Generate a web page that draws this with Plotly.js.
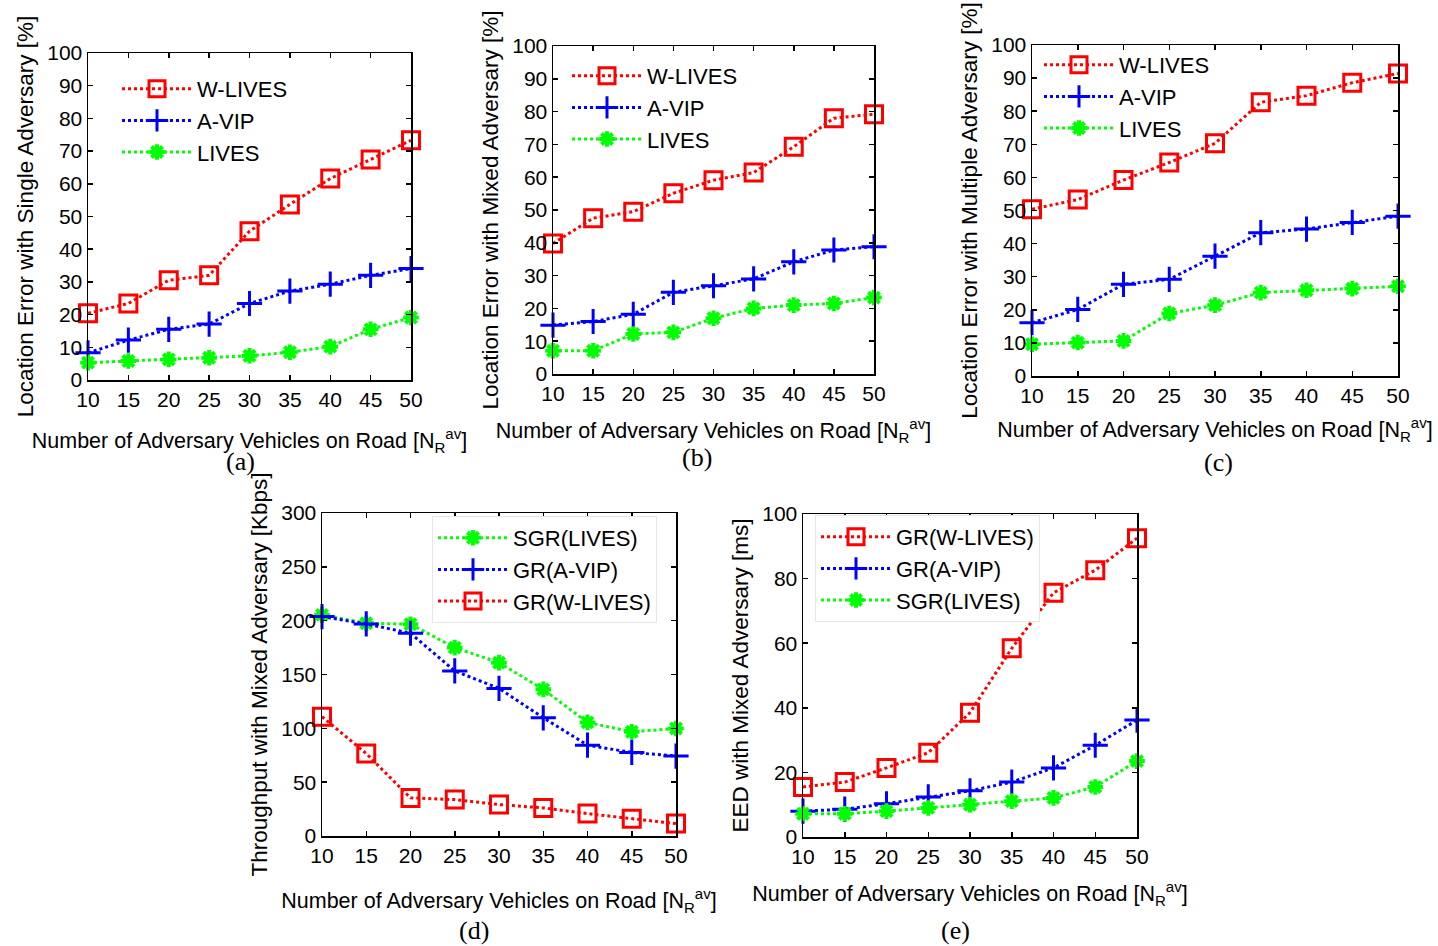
<!DOCTYPE html>
<html>
<head>
<meta charset="utf-8">
<script src="https://cdn.plot.ly/plotly-3.0.1.min.js"></script>
<style>
html,body{margin:0;padding:0;background:#fff;}
#chart{width:1438px;height:946px;}
</style>
</head>
<body>
<div id="chart"></div>
<script>
// ---- data ----
const vehicles = [10, 15, 20, 25, 30, 35, 40, 45, 50];

// (a) Location error with single adversary [%]
const a_wlives = [20.4, 23.4, 30.5, 32.0, 45.5, 53.7, 61.6, 67.4, 73.3];
const a_avip   = [8.3, 12.2, 15.5, 17.1, 23.4, 27.2, 29.3, 32.0, 34.1];
const a_lives  = [5.3, 5.8, 6.3, 6.8, 7.4, 8.5, 10.2, 15.5, 19.1];

// (b) Location error with mixed adversary [%]
const b_wlives = [39.8, 47.5, 49.5, 55.1, 59.1, 61.4, 69.3, 78.0, 79.2];
const b_avip   = [14.9, 16.0, 18.2, 24.9, 26.9, 29.0, 34.2, 37.8, 38.8];
const b_lives  = [7.1, 7.1, 12.2, 12.7, 17.0, 20.0, 21.0, 21.5, 23.3];

// (c) Location error with multiple adversary [%]
const c_wlives = [50.4, 53.3, 59.2, 64.5, 70.3, 82.7, 84.7, 88.6, 91.4];
const c_avip   = [16.1, 20.1, 27.7, 29.2, 36.2, 43.3, 44.4, 46.4, 48.3];
const c_lives  = [9.6, 10.1, 10.6, 18.9, 21.4, 25.2, 25.9, 26.4, 27.1];

// (d) Throughput with mixed adversary [Kbps]
const d_sgr_lives = [205.4, 197.6, 196.7, 175.0, 161.0, 136.2, 105.5, 96.8, 99.9];
const d_gr_avip   = [203.8, 197.0, 188.3, 153.3, 137.1, 109.8, 84.4, 77.6, 74.2];
const d_gr_wlives = [110.8, 76.6, 35.4, 33.8, 29.2, 26.1, 20.8, 16.1, 11.5];

// (e) EED with mixed adversary [ms]
const e_gr_wlives = [15.5, 17.0, 21.4, 26.1, 38.5, 58.4, 75.6, 82.6, 92.5];
const e_gr_avip   = [8.0, 8.6, 10.3, 12.4, 14.3, 17.0, 21.4, 28.4, 36.2];
const e_sgr_lives = [7.2, 7.2, 8.0, 9.0, 10.0, 11.1, 12.1, 15.5, 23.5];

const xTitle = 'Number of Adversary Vehicles on Road [N<sub>R</sub><sup>av</sup>]';
const yTitles = [
  'Location Error with Single Adversary [%]',
  'Location Error with Mixed Adversary [%]',
  'Location Error with Multiple Adversary [%]',
  'Throughput with Mixed Adversary [Kbps]',
  'EED with Mixed Adversary [ms]'
];
const captions = ['(a)', '(b)', '(c)', '(d)', '(e)'];

// ---- styles ----
const RED = '#ff0000', BLUE = '#0000ff', GREEN = '#00ff00';
const styles = {
  w: {color: RED,   symbol: 'square-open',     size: 17, mw: 3},
  v: {color: BLUE,  symbol: 'cross-thin-open', size: 18, mw: 3},
  l: {color: GREEN, symbol: 'asterisk-open',   size: 13, mw: 4}
};
function tr(y, name, st, k, legendId) {
  const s = styles[st];
  return {
    x: vehicles, y: y, name: name, type: 'scatter', mode: 'lines+markers',
    xaxis: 'x' + (k === 1 ? '' : k), yaxis: 'y' + (k === 1 ? '' : k),
    legend: legendId, cliponaxis: false,
    line: {color: s.color, width: 3, dash: 'dot'},
    marker: {symbol: s.symbol, size: s.size, color: s.color, line: {color: s.color, width: s.mw}}
  };
}

const data = [
  tr(a_wlives, 'W-LIVES', 'w', 1, 'legend'),
  tr(a_avip, 'A-VIP', 'v', 1, 'legend'),
  tr(a_lives, 'LIVES', 'l', 1, 'legend'),
  tr(b_wlives, 'W-LIVES', 'w', 2, 'legend2'),
  tr(b_avip, 'A-VIP', 'v', 2, 'legend2'),
  tr(b_lives, 'LIVES', 'l', 2, 'legend2'),
  tr(c_wlives, 'W-LIVES', 'w', 3, 'legend3'),
  tr(c_avip, 'A-VIP', 'v', 3, 'legend3'),
  tr(c_lives, 'LIVES', 'l', 3, 'legend3'),
  tr(d_sgr_lives, 'SGR(LIVES)', 'l', 4, 'legend4'),
  tr(d_gr_avip, 'GR(A-VIP)', 'v', 4, 'legend4'),
  tr(d_gr_wlives, 'GR(W-LIVES)', 'w', 4, 'legend4'),
  tr(e_gr_wlives, 'GR(W-LIVES)', 'w', 5, 'legend5'),
  tr(e_gr_avip, 'GR(A-VIP)', 'v', 5, 'legend5'),
  tr(e_sgr_lives, 'SGR(LIVES)', 'l', 5, 'legend5')
];

const W = 1438, H = 946;
const FONT = 'Liberation Sans, Arial, sans-serif';
// plot boxes in pixels: [left, right, top, bottom]
const boxes = [
  [88, 411, 53, 380],
  [553, 874, 46, 374],
  [1032, 1398, 45, 376],
  [322, 676, 513, 836],
  [803, 1137, 514, 837]
];
const yRanges = [[0, 100], [0, 100], [0, 100], [0, 300], [0, 100]];
const yDticks = [10, 10, 10, 50, 20];
const xStandoff = [23, 19, 16, 27, 19];

const layout = {
  width: W, height: H,
  margin: {l: 0, r: 0, t: 0, b: 0},
  paper_bgcolor: '#fff', plot_bgcolor: '#fff',
  font: {family: FONT, size: 20, color: '#000'},
  annotations: [],
  showlegend: true
};

boxes.forEach((b, i) => {
  const k = i + 1, sfx = k === 1 ? '' : k;
  layout['xaxis' + sfx] = {
    domain: [b[0] / W, b[1] / W],
    anchor: 'y' + sfx,
    range: [10, 50], tickvals: vehicles,
    showgrid: false, zeroline: false,
    showline: true, mirror: 'allticks', linecolor: '#000', linewidth: 1.5,
    ticks: 'inside', ticklen: 5, tickcolor: '#000', tickwidth: 1.5,
    tickfont: {family: FONT, size: 21, color: '#000'},
    title: {text: xTitle, font: {family: FONT, size: 21.5, color: '#000'}, standoff: xStandoff[i]}
  };
  layout['yaxis' + sfx] = {
    domain: [1 - b[3] / H, 1 - b[2] / H],
    anchor: 'x' + sfx,
    range: yRanges[i], dtick: yDticks[i], tick0: 0,
    showgrid: false, zeroline: false,
    showline: true, mirror: 'allticks', linecolor: '#000', linewidth: 1.5,
    ticks: 'inside', ticklen: 5, tickcolor: '#000', tickwidth: 1.5,
    tickfont: {family: FONT, size: 21, color: '#000'},
    title: {text: yTitles[i], font: {family: FONT, size: 22.5, color: '#000'}}
  };
});

const legPos = [[116, 67, false], [566, 54, false], [1038, 43, false], [432, 516, true], [815, 515, true]];
const legIds = ['legend', 'legend2', 'legend3', 'legend4', 'legend5'];
legPos.forEach((p, i) => {
  layout[legIds[i]] = {
    x: p[0] / W, y: 1 - p[1] / H, xanchor: 'left', yanchor: 'top',
    xref: 'paper', yref: 'paper',
    bgcolor: p[2] ? '#fff' : 'rgba(255,255,255,0)',
    bordercolor: p[2] ? '#e6e6e6' : 'rgba(255,255,255,0)', borderwidth: 1,
    font: {family: FONT, size: 22, color: '#000'},
    itemwidth: 70, tracegroupgap: 0
  };
});

const capPos = [[240, 461], [697, 458], [1218, 462], [474, 930], [955, 930]];
capPos.forEach((p, i) => {
  layout.annotations.push({
    text: captions[i], xref: 'paper', yref: 'paper',
    x: p[0] / W, y: 1 - p[1] / H, xanchor: 'center', yanchor: 'middle',
    showarrow: false, font: {family: 'Liberation Serif, Times New Roman, serif', size: 26, color: '#000'}
  });
});

Plotly.newPlot('chart', data, layout, {staticPlot: true});
</script>
</body>
</html>
